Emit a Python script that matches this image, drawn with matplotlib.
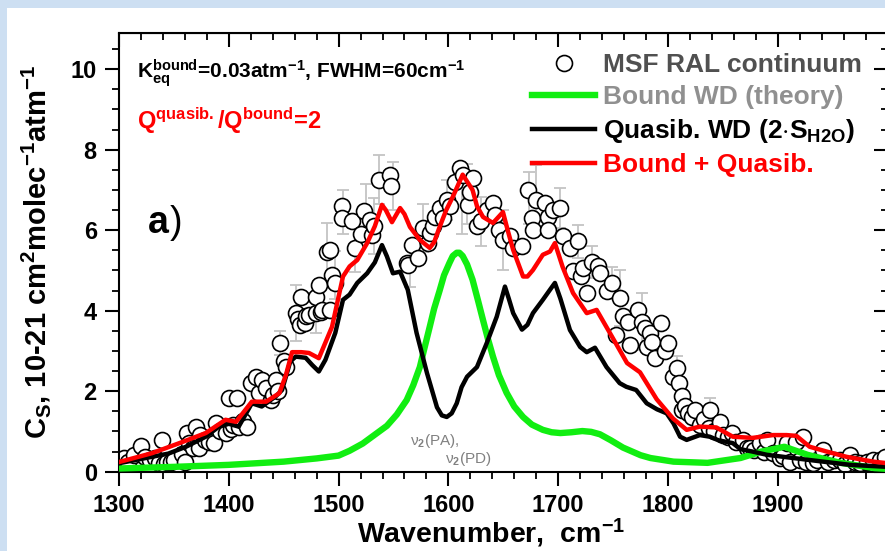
import numpy as np
import matplotlib
matplotlib.use('Agg')
import matplotlib.pyplot as plt
from matplotlib.lines import Line2D
from matplotlib.patches import Rectangle
from matplotlib.ticker import MultipleLocator

plt.rcParams['font.family'] = ['Liberation Sans', 'DejaVu Sans']
plt.rcParams['font.weight'] = 'bold'
plt.rcParams['axes.labelweight'] = 'bold'
plt.rcParams['mathtext.fontset'] = 'custom'
plt.rcParams['mathtext.rm'] = 'Liberation Sans:bold'
plt.rcParams['mathtext.it'] = 'Liberation Sans:bold'
plt.rcParams['mathtext.bf'] = 'Liberation Sans:bold'
plt.rcParams['mathtext.sf'] = 'Liberation Sans'

# MSF RAL continuum (measured points)
msf_wn = [1300, 1302, 1304.5, 1308, 1313.7, 1319.7, 1324, 1328, 1333, 1336, 1339, 1341, 1344, 1347,
          1350, 1357, 1360, 1362, 1364, 1367, 1370, 1373, 1374, 1378, 1382, 1386.5, 1388, 1392, 1397,
          1400, 1402, 1404, 1407.5, 1409, 1413, 1416.6, 1420, 1424.5, 1427.5, 1430, 1433.6, 1438, 1440,
          1442.7, 1445, 1447, 1450, 1452, 1461, 1463, 1465, 1466, 1469, 1470, 1473, 1479, 1479.5, 1482,
          1484, 1485, 1489, 1492, 1492.5, 1494, 1497, 1503, 1503.5, 1512, 1515, 1520, 1523, 1529, 1530,
          1532, 1537, 1547, 1548, 1562, 1563, 1566.5, 1572, 1577, 1581.6, 1583, 1586, 1588, 1592, 1595,
          1598.5, 1601.5, 1606, 1610.6, 1613, 1618, 1619.7, 1622, 1626, 1630, 1635, 1641, 1642.6, 1646,
          1650, 1656, 1659, 1667, 1672.5, 1676, 1677, 1680, 1688, 1690.7, 1691, 1695, 1701.6, 1704,
          1710.7, 1713.5, 1718, 1721, 1722.6, 1726, 1730.5, 1736, 1738, 1744, 1748.7, 1753, 1756, 1759,
          1763.7, 1765.4, 1772.7, 1776, 1779, 1780.6, 1783.6, 1785, 1788, 1794, 1797, 1800, 1805, 1808,
          1809.6, 1812.7, 1813, 1815.7, 1818, 1822, 1825, 1829, 1833, 1837, 1838, 1842, 1847, 1850,
          1855, 1858, 1862, 1868, 1872, 1874.7, 1878, 1884, 1887, 1890, 1895.6, 1902, 1905, 1908, 1911,
          1917, 1920, 1923, 1926, 1932, 1936, 1941, 1946, 1951, 1956.6, 1961, 1966, 1970, 1975, 1981,
          1987, 1993, 1998]
msf_val = [0.30, 0.20, 0.34, 0.25, 0.42, 0.65, 0.37, 0.30, 0.33, 0.22, 0.79, 0.20, 0.25, 0.25,
           0.30, 0.45, 0.25, 0.96, 0.71, 0.60, 1.12, 0.59, 0.91, 0.80, 0.75, 0.71, 1.21, 1.00, 0.96,
           1.83, 1.05, 1.15, 1.83, 1.11, 1.25, 1.11, 2.20, 2.36, 1.95, 2.28, 2.08, 1.78, 1.90,
           2.28, 2.00, 3.20, 2.74, 2.60, 3.95, 3.80, 3.65, 4.35, 3.70, 3.86, 3.90, 3.95, 4.35, 4.64,
           3.98, 4.02, 5.47, 5.51, 4.02, 4.89, 4.69, 6.59, 6.30, 6.22, 5.56, 5.90, 6.47, 6.26, 5.89,
           6.10, 7.26, 7.38, 7.09, 5.19, 5.14, 5.64, 5.31, 6.06, 5.69, 5.93, 6.10, 6.34, 6.55, 6.30,
           6.76, 6.59, 7.21, 7.55, 7.38, 6.63, 6.96, 7.30, 6.10, 6.22, 6.50, 6.68, 6.38, 6.00,
           5.76, 5.85, 5.56, 5.60, 7.00, 6.30, 6.01, 6.76, 6.68, 6.34, 6.01, 6.50, 6.55, 5.85,
           5.56, 4.98, 5.72, 4.85, 5.06, 4.44, 5.22, 5.10, 4.94, 4.48, 4.69, 3.40, 4.32, 3.86,
           3.73, 3.15, 4.02, 3.73, 3.57, 3.11, 3.45, 3.23, 2.83, 3.70, 2.99, 3.20, 2.36, 2.58,
           2.20, 1.87, 1.53, 1.62, 1.45, 1.37, 1.53, 1.16, 1.30, 1.09, 1.53, 1.00, 1.24, 0.90,
           0.85, 0.96, 0.75, 0.79, 0.60, 0.59, 0.55, 0.71, 0.50, 0.79, 0.46, 0.34, 0.40, 0.71, 0.25,
           0.75, 0.30, 0.87, 0.25, 0.21, 0.30, 0.54, 0.25, 0.30, 0.29, 0.20, 0.42, 0.25, 0.21, 0.25,
           0.29, 0.30, 0.37]

# error bars shown on some of the points
err_wn = [1447, 1461, 1479, 1489, 1497, 1504, 1515, 1525, 1532, 1537, 1550, 1565, 1577, 1598.5,
          1612, 1617, 1630, 1650, 1673, 1680, 1701.6, 1718, 1730.5, 1748.7, 1756, 1776, 1808, 1838]
err_val = [3.20, 3.95, 3.95, 5.47, 4.89, 6.45, 5.56, 6.55, 6.10, 7.26, 7.09, 5.14, 6.06, 6.76,
           6.70, 6.90, 6.22, 5.76, 6.80, 6.76, 6.55, 5.72, 5.22, 4.69, 4.32, 3.73, 2.58, 1.53]
err_size = [0.30, 0.70, 0.50, 0.70, 0.60, 0.55, 0.60, 0.60, 0.70, 0.60, 0.60, 0.55, 0.60, 0.50,
            0.80, 0.75, 0.60, 0.75, 0.65, 0.87, 0.50, 0.40, 0.40, 0.40, 0.70, 0.70, 0.30, 0.30]

# Bound WD (theory)
bound_wn = [1300, 1350, 1400, 1450, 1480, 1500, 1510, 1522, 1530, 1544, 1553, 1562, 1568, 1574,
            1578, 1583, 1587, 1592, 1596, 1601, 1604, 1607.6, 1610, 1613, 1617, 1622, 1627, 1631.5,
            1636, 1640.6, 1646, 1653, 1660, 1668, 1676, 1686, 1694, 1702, 1712, 1722, 1730, 1738,
            1748, 1759, 1775, 1784, 1805, 1836, 1866, 1885, 1906, 1927, 1957, 1988, 2000]
bound_val = [0.08, 0.12, 0.17, 0.25, 0.33, 0.40, 0.52, 0.70, 0.86, 1.14, 1.42, 1.78, 2.15, 2.60,
             3.05, 3.60, 4.05, 4.50, 4.88, 5.19, 5.36, 5.44, 5.44, 5.36, 5.15, 4.77, 4.25, 3.77,
             3.30, 2.86, 2.40, 1.96, 1.62, 1.36, 1.17, 1.04, 0.98, 0.96, 0.98, 1.01, 0.99, 0.93,
             0.78, 0.60, 0.41, 0.34, 0.25, 0.22, 0.34, 0.50, 0.62, 0.42, 0.22, 0.09, 0.07]

# Quasib. WD (2*S_H2O)
quasi_wn = [1300, 1330, 1345, 1361, 1379, 1391, 1400, 1409, 1421, 1430, 1442.7, 1448.5, 1456, 1461,
            1470, 1476, 1482, 1488, 1497, 1504, 1510, 1517, 1526, 1533, 1539.5, 1544, 1549.5, 1556,
            1563, 1571, 1580.5, 1589.6, 1594, 1598.5, 1603, 1607.6, 1612, 1617, 1626, 1635, 1644,
            1651.5, 1655, 1659, 1667, 1672, 1677, 1686, 1692.5, 1697, 1702, 1710.7, 1720, 1726,
            1733.5, 1744, 1756, 1762, 1771, 1780.6, 1790, 1798.8, 1805, 1811, 1817, 1829, 1838, 1846,
            1859, 1866, 1877, 1890, 1905, 1929, 1966, 2000]
quasi_val = [0.21, 0.37, 0.45, 0.62, 0.87, 1.12, 1.19, 1.12, 1.70, 1.62, 1.87, 2.03, 2.74, 2.86,
             2.83, 2.65, 2.49, 2.78, 3.45, 4.27, 4.40, 4.69, 4.93, 5.20, 5.63, 5.35, 4.93, 4.97,
             4.52, 3.45, 2.45, 1.60, 1.40, 1.36, 1.45, 1.70, 2.10, 2.36, 2.60, 3.20, 3.85,
             4.60, 4.30, 3.94, 3.53, 3.65, 3.94, 4.27, 4.52, 4.69, 4.30, 3.52, 3.10, 2.97,
             3.08, 2.60, 2.20, 2.11, 2.03, 1.70, 1.55, 1.45, 1.20, 0.87, 0.79, 0.91, 0.87, 0.78,
             0.71, 0.56, 0.50, 0.42, 0.37, 0.29, 0.17, 0.12]

# Bound + Quasib.
sum_wn = [1300, 1330, 1355, 1379, 1397, 1406.6, 1421, 1434, 1446, 1452, 1457.6, 1466, 1473, 1482,
          1494, 1500, 1504, 1510, 1517, 1526, 1533, 1539.5, 1543, 1548.6, 1556, 1560, 1565, 1574,
          1583, 1587, 1592, 1598, 1604, 1613, 1622, 1626, 1631.5, 1640.6, 1649.7, 1654, 1659, 1668,
          1672, 1677, 1686, 1692.5, 1697, 1704, 1713.5, 1726, 1735, 1747, 1762.7, 1774.5, 1789.7,
          1804.6, 1817, 1829, 1844, 1859, 1877, 1895.6, 1908, 1917, 1929, 1944.6, 1962.6, 1987, 2000]
sum_val = [0.24, 0.46, 0.71, 0.96, 1.29, 1.24, 1.74, 1.74, 1.95, 2.40, 2.97, 2.97, 2.95, 2.82,
           3.60, 4.35, 4.85, 5.10, 5.26, 5.68, 6.10, 6.63, 6.50, 6.20, 6.55, 6.40, 6.08, 5.76,
           5.56, 5.70, 6.08, 6.50, 6.83, 7.38, 7.00, 6.60, 6.33, 6.18, 6.45, 6.00, 5.51, 4.85,
           4.85, 5.01, 5.39, 5.47, 5.68, 5.09, 4.44, 3.94, 4.02, 3.45, 2.70, 2.47, 1.80,
           1.32, 1.04, 1.12, 1.10, 0.87, 0.84, 0.91, 0.91, 0.89, 0.62, 0.50, 0.37, 0.25, 0.21]

W, H = 885, 551
fig = plt.figure(figsize=(W / 100, H / 100), dpi=100, facecolor='#cddff2')
# white slide panel behind the chart
fig.patches.append(Rectangle((7 / W, 0), 1, (H - 8) / H, transform=fig.transFigure,
                             facecolor='white', edgecolor='none', zorder=-10))

ax = fig.add_axes([119 / W, (H - 471.7) / H, (887.6 - 119) / W, (471.7 - 33) / H])
ax.set_facecolor('white')

ax.errorbar(err_wn, err_val, yerr=err_size, fmt='none', ecolor='#c4c4c4', elinewidth=1.3,
            capsize=4, capthick=1.3, zorder=1)
ax.plot(msf_wn, msf_val, 'o', ms=11.5, mfc='white', mec='black', mew=1.2, zorder=2)
ax.plot(bound_wn, bound_val, color='#11ee11', lw=4.6, zorder=3, solid_capstyle='butt')
ax.plot(quasi_wn, quasi_val, color='black', lw=3.2, zorder=4, solid_joinstyle='round')
ax.plot(sum_wn, sum_val, color='#ff0000', lw=3.2, zorder=5, solid_joinstyle='round')

ax.set_xlim(1300, 2000)
ax.set_ylim(0, 10.9)
ax.set_xticks([1300, 1400, 1500, 1600, 1700, 1800, 1900, 2000])
ax.set_xticklabels(['1300', '1400', '1500', '1600', '1700', '1800', '1900', ''])
ax.set_yticks([0, 2, 4, 6, 8, 10])
ax.xaxis.set_minor_locator(MultipleLocator(20))
ax.yaxis.set_minor_locator(MultipleLocator(0.5))
ax.tick_params(which='major', direction='out', length=10, width=1.5, labelsize=17, pad=6)
ax.tick_params(which='minor', direction='out', length=5, width=1.3)
for s in ax.spines.values():
    s.set_linewidth(1.5)

# inward ticks on top and right
top = ax.secondary_xaxis('top')
top.set_xticks(ax.get_xticks())
top.xaxis.set_minor_locator(MultipleLocator(20))
top.tick_params(which='major', direction='in', length=10, width=1.5, labeltop=False)
top.tick_params(which='minor', direction='in', length=5, width=1.3)
right = ax.secondary_yaxis('right')
right.set_yticks([0, 2, 4, 6, 8, 10])
right.yaxis.set_minor_locator(MultipleLocator(0.5))
right.tick_params(which='major', direction='in', length=10, width=1.5, labelright=False)
right.tick_params(which='minor', direction='in', length=5, width=1.3)

ax.set_xlabel(r'Wavenumber,  cm$^{-1}$', fontsize=20.5)
ax.xaxis.set_label_coords(0.484, -0.103)
ax.set_ylabel(r'C$_{S}$, 10-21 cm$^{2}$molec$^{-1}$atm$^{-1}$', fontsize=21)
ax.yaxis.set_label_coords(-0.086, 0.5)

ax.text(0.0234, 0.897, r'K$^{bound}_{eq}$=0.03atm$^{-1}$, FWHM=60cm$^{-1}$', transform=ax.transAxes,
        fontsize=15, va='baseline', ha='left')
ax.text(0.0234, 0.781, r'Q$^{quasib.}$/Q$^{bound}$=2', transform=ax.transAxes,
        fontsize=17, color='#ff0000', va='baseline', ha='left')
ax.text(0.0377, 0.544, 'a', transform=ax.transAxes, fontsize=27, va='baseline', ha='left')
ax.text(0.0655, 0.544, ')', transform=ax.transAxes, fontsize=27, fontweight='normal',
        va='baseline', ha='left')
ax.text(1565, 0.66, r'ν$_\mathsf{2}$(PA),', fontsize=11, fontweight='normal', color='#808080',
        va='baseline', ha='left', zorder=6)
ax.text(1597, 0.22, r'ν$_\mathsf{2}$(PD)', fontsize=11, fontweight='normal', color='#808080',
        va='baseline', ha='left', zorder=6)

handles = [Line2D([], [], ls='none', marker='o', ms=11.5, mfc='white', mec='black', mew=1.2),
           Line2D([], [], color='#11ee11', lw=4.6),
           Line2D([], [], color='black', lw=3.2),
           Line2D([], [], color='#ff0000', lw=3.2)]
labels = ['MSF RAL continuum', 'Bound WD (theory)', r'Quasib. WD (2$\cdot$S$_{H2O}$)',
          'Bound + Quasib.']
leg = ax.legend(handles, labels, loc='upper left', bbox_to_anchor=(532 / W, 1 - 53 / H),
                bbox_transform=fig.transFigure, frameon=False, fontsize=19, borderpad=0,
                borderaxespad=0, handlelength=2.4, handletextpad=0.3, labelspacing=0.3)
for t, c in zip(leg.get_texts(), ['#505050', '#909090', 'black', '#ff0000']):
    t.set_color(c)

fig.savefig('out.png', dpi=100, facecolor=fig.get_facecolor())
